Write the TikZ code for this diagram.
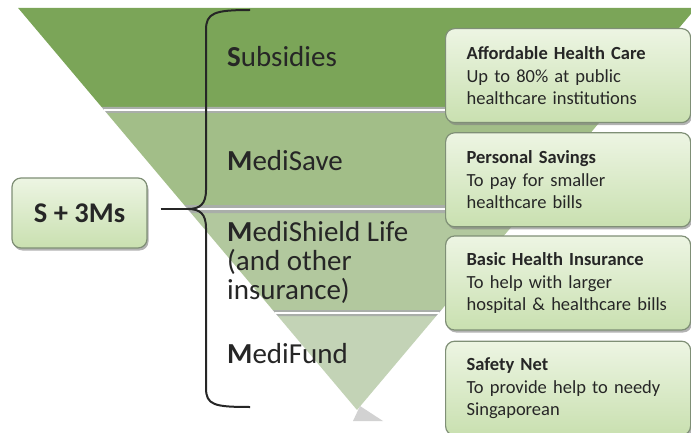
\documentclass[tikz,border=0pt]{standalone}
\usepackage{fontspec}
\setmainfont{Carlito}
\usetikzlibrary{positioning,shadows}

\definecolor{bandA}{HTML}{7BA558}
\definecolor{bandB}{HTML}{A2BE88}
\definecolor{bandC}{HTML}{B2C89E}
\definecolor{bandD}{HTML}{C3D3B6}
\definecolor{gapgrey}{HTML}{A9AEA9}
\definecolor{boxtop}{HTML}{EDF5E3}
\definecolor{boxbottom}{HTML}{C9E0B0}
\definecolor{boxline}{HTML}{7F8F76}
\definecolor{inkgrey}{HTML}{262626}

\tikzset{
  bandlabel/.style={inner sep=0pt, text=inkgrey, align=left,
    font=\fontsize{29}{29}\selectfont},
  infobox/.style={rounded corners=9pt, draw=boxline, line width=1.2pt,
    top color=boxtop, bottom color=boxbottom, text=inkgrey,
    drop shadow={shadow xshift=1.5pt, shadow yshift=-2.5pt, opacity=.6},
    align=left, text width=203pt, inner xsep=21pt, minimum height=94pt,
    font=\fontsize{18.5}{22.5}\selectfont},
  sumbox/.style={rounded corners=9pt, draw=boxline, line width=1.2pt,
    top color=boxtop, bottom color=boxbottom, text=inkgrey,
    drop shadow={shadow xshift=1.5pt, shadow yshift=-2.5pt, opacity=.6},
    minimum width=135pt, minimum height=70pt,
    font=\fontsize{28.5}{28.5}\selectfont\bfseries},
  bracket/.style={draw=inkgrey, line width=2pt},
}

\begin{document}
\begin{tikzpicture}[x=1pt,y=-1pt]
\useasboundingbox (0,0) rectangle (691,433);
\clip (0,0) rectangle (691,433);

% funnel bands
\foreach \ya/\yb/\col in {8/107/bandA,113/205/bandB,213/310/bandC,316/410/bandD}
  \fill[\col] ({357-0.843*(410-\ya)},\ya) -- ({357+0.843*(410-\ya)},\ya)
    -- ({357+0.843*(410-\yb)},\yb) -- ({357-0.843*(410-\yb)},\yb) -- cycle;
\foreach \ya/\yb in {107/113,205/213,310/316}{
  \fill[gapgrey] ({357-0.843*(410-\ya)},\ya) -- ({357+0.843*(410-\ya)},\ya)
    -- ({357+0.843*(410-\yb)},\yb) -- ({357-0.843*(410-\yb)},\yb) -- cycle;
  \draw[white, line width=1.5pt] ({357-0.843*(410-(\ya+\yb)/2)},{(\ya+\yb)/2})
    -- ({357+0.843*(410-(\ya+\yb)/2)},{(\ya+\yb)/2});
}
\fill[gray!35] (360,406) -- (383,421) -- (353,421) -- cycle;

% band labels
\node[bandlabel, anchor=base west] (subsidies) at (227,67) {{\bfseries S}ubsidies};
\node[bandlabel, anchor=base west] (medisave) at (227,171) {{\bfseries M}ediSave};
\node[bandlabel, anchor=north west] (medishield) at (227,221)
  {{\bfseries M}ediShield Life\\(and other\\insurance)};
\node[bandlabel, anchor=base west] (medifund) at (227,363) {{\bfseries M}ediFund};

% brace
\coordinate (cusp) at (188,209);
\draw[bracket] (250,10) .. controls (214,10) and (206,13) .. (206,30)
  -- (206,190) .. controls (206,204) and (200,209) .. (cusp)
  .. controls (200,209) and (206,214) .. (206,228)
  -- (206,388) .. controls (206,405) and (214,407) .. (250,407);

% boxes
\node[sumbox] (sbox) at (79.5,213) {S + 3Ms};
\draw[bracket] ([xshift=13pt]sbox.east |- cusp) -- (cusp);

\node[infobox, anchor=north west] (affordable) at (445,28)
  {\textbf{Affordable Health Care}\\Up to 80\% at public\\healthcare institutions};
\node[infobox, below=9pt of affordable] (savings)
  {\textbf{Personal Savings}\\To pay for smaller\\healthcare bills};
\node[infobox, below=8pt of savings] (insurance)
  {\textbf{Basic Health Insurance}\\To help with larger\\hospital \& healthcare bills};
\node[infobox, below=10pt of insurance] (safety)
  {\textbf{Safety Net}\\To provide help to needy\\Singaporean};
\end{tikzpicture}
\end{document}
